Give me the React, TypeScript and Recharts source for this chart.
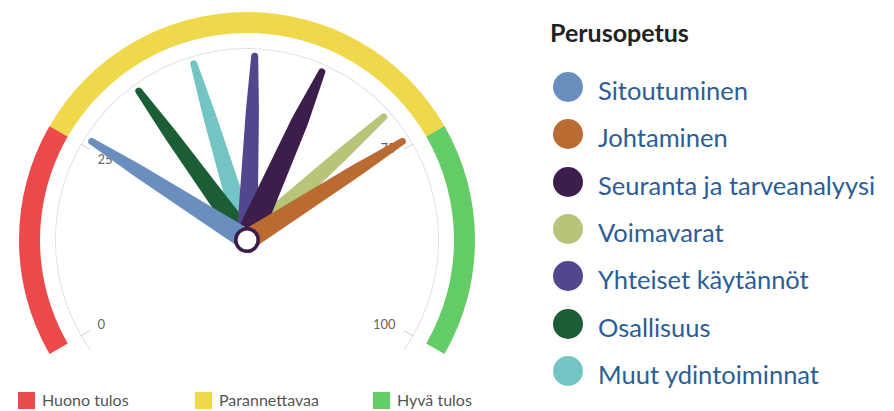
import { PieChart, Pie, Cell } from 'recharts';

// Gauge bands
const bandNames = ['Huono tulos', 'Parannettavaa', 'Hyvä tulos'];
const bandSizes = [25, 50, 25];
const bandColors = ['#ec4a4a', '#efd84a', '#64cc66'];

const axisTicks = [0, 25, 75, 100];

// Needles
const seriesNames = [
  'Sitoutuminen',
  'Johtaminen',
  'Seuranta ja tarveanalyysi',
  'Voimavarat',
  'Yhteiset käytännöt',
  'Osallisuus',
  'Muut ydintoiminnat',
];
const seriesValues = [26, 74, 60, 70, 51, 35, 43];
const seriesColors = ['#6a8fbf', '#b96b32', '#3c1d4b', '#b9c47b', '#52478c', '#1b5d34', '#73c5c3'];
const hovered = 2; // the dial that is highlighted (pivot takes its colour)

const CX = 242;
const CY = 235;
const RAD = Math.PI / 180;

function makeNeedle(wide: boolean) {
  return function Needle(props: any) {
    if (props.index !== 0) return null;
    const { cx, cy, endAngle, fill } = props;
    const len = 184;
    const base = wide ? 13 : 10.5;
    const midAt = 130;
    const mid = wide ? 8.5 : 6.5;
    const top = 3.5;
    const ux = Math.cos(endAngle * RAD);
    const uy = -Math.sin(endAngle * RAD);
    const px = -uy;
    const py = ux;
    const pt = (along: number, side: number) =>
      `${cx + ux * along + px * side},${cy + uy * along + py * side}`;
    const d =
      `M${pt(0, base)}L${pt(midAt, mid)}L${pt(len, top)}` +
      `A${top},${top} 0 0 0 ${pt(len, -top)}` +
      `L${pt(midAt, -mid)}L${pt(0, -base)}Z`;
    return <path d={d} fill={fill} stroke="none" />;
  };
}

// tick marks + labels at the sector edges of the tick-gap pie
function TickMark(props: any) {
  const { cx, cy, startAngle, endAngle, index } = props;
  const marks = [{ a: startAngle, v: axisTicks[index] }];
  if (index === axisTicks.length - 2) marks.push({ a: endAngle, v: axisTicks[index + 1] });
  return (
    <g>
      {marks.map((m) => {
        const c = Math.cos(m.a * RAD);
        const s = -Math.sin(m.a * RAD);
        const x1 = cx + c * 192;
        const y1 = cy + s * 192;
        const x2 = cx + c * 182;
        const y2 = cy + s * 182;
        const anchor = c < 0 ? 'start' : 'end';
        const dx = c < 0 ? 8 : -9;
        const dy = y2 < cy ? (c < 0 ? 10 : -1) : -7;
        return (
          <g key={m.v}>
            <line x1={x1} y1={y1} x2={x2} y2={y2} stroke="#cccccc" strokeWidth={1} />
            <text
              x={x2 + dx}
              y={y2 + dy}
              textAnchor={anchor}
              dominantBaseline="central"
              fontSize={13}
              fill="#666"
              fontFamily="Lato, sans-serif"
            >
              {m.v}
            </text>
          </g>
        );
      })}
    </g>
  );
}

function Pivot(props: any) {
  return <circle cx={props.cx} cy={props.cy} r={11.2} fill="#fff" stroke={seriesColors[hovered]} strokeWidth={3.6} />;
}

export default function App() {
  const bandData = bandNames.map((name, i) => ({ name, value: bandSizes[i] }));
  const tickGaps = axisTicks.slice(1).map((t, i) => ({ value: t - axisTicks[i] }));
  const order = seriesNames.map((_, i) => i).reverse();

  return (
    <div style={{ position: 'absolute', left: 0, top: 0, width: 894, height: 411, background: '#fff', fontFamily: 'Lato, sans-serif' }}>
      <div style={{ position: 'absolute', left: 0, top: 0 }}>
        <PieChart width={500} height={380}>
          <Pie
            data={[{ value: 1 }]}
            dataKey="value"
            cx={CX}
            cy={CY}
            startAngle={215}
            endAngle={-35}
            innerRadius={191}
            outerRadius={192}
            fill="#e2e2e2"
            stroke="none"
            isAnimationActive={false}
          />
          <Pie
            data={tickGaps}
            dataKey="value"
            cx={CX}
            cy={CY}
            startAngle={210}
            endAngle={-30}
            innerRadius={182}
            outerRadius={192}
            fill="#fff"
            fillOpacity={0}
            stroke="none"
            label={TickMark}
            labelLine={false}
            isAnimationActive={false}
          />
          <Pie
            data={bandData}
            dataKey="value"
            cx={CX}
            cy={CY}
            startAngle={210}
            endAngle={-30}
            innerRadius={207}
            outerRadius={228}
            stroke="none"
            isAnimationActive={false}
          >
            {bandData.map((d, i) => (
              <Cell key={d.name} fill={bandColors[i]} />
            ))}
          </Pie>
          {order.map((i) => (
            <Pie
              key={seriesNames[i]}
              data={[{ value: seriesValues[i] }, { value: 100 - seriesValues[i] }]}
              dataKey="value"
              cx={CX}
              cy={CY}
              startAngle={210}
              endAngle={-30}
              innerRadius={0}
              outerRadius={184}
              fill={seriesColors[i]}
              fillOpacity={0}
              stroke="none"
              label={makeNeedle(i === hovered)}
              labelLine={false}
              isAnimationActive={false}
            />
          ))}
          <Pie
            data={[{ value: 1 }]}
            dataKey="value"
            cx={CX}
            cy={CY}
            innerRadius={0}
            outerRadius={1}
            fill="#fff"
            fillOpacity={0}
            stroke="none"
            label={Pivot}
            labelLine={false}
            isAnimationActive={false}
          />
        </PieChart>
      </div>

      {/* bottom legend */}
      {bandNames.map((name, i) => (
        <div
          key={name}
          style={{
            position: 'absolute',
            left: [18, 195, 373][i],
            top: 391,
            display: 'flex',
            alignItems: 'center',
            fontSize: 16,
            color: '#555',
            lineHeight: '18px',
            whiteSpace: 'nowrap',
          }}
        >
          <span style={{ display: 'inline-block', width: 17, height: 17, background: bandColors[i], marginRight: 7 }} />
          {name}
        </div>
      ))}

      {/* right legend */}
      <div style={{ position: 'absolute', left: 550, top: 17, fontSize: 25, fontWeight: 700, color: '#222' }}>Perusopetus</div>
      {seriesNames.map((name, i) => (
        <div
          key={name}
          style={{
            position: 'absolute',
            left: 553,
            top: 72 + i * 47.3,
            height: 30,
            display: 'flex',
            alignItems: 'center',
            fontSize: 25.5,
            color: '#2c5d94',
            whiteSpace: 'nowrap',
          }}
        >
          <span style={{ display: 'inline-block', width: 30, height: 30, borderRadius: 15, background: seriesColors[i], marginRight: 15 }} />
          <span style={{ position: 'relative', top: 3 }}>{name}</span>
        </div>
      ))}
    </div>
  );
}
